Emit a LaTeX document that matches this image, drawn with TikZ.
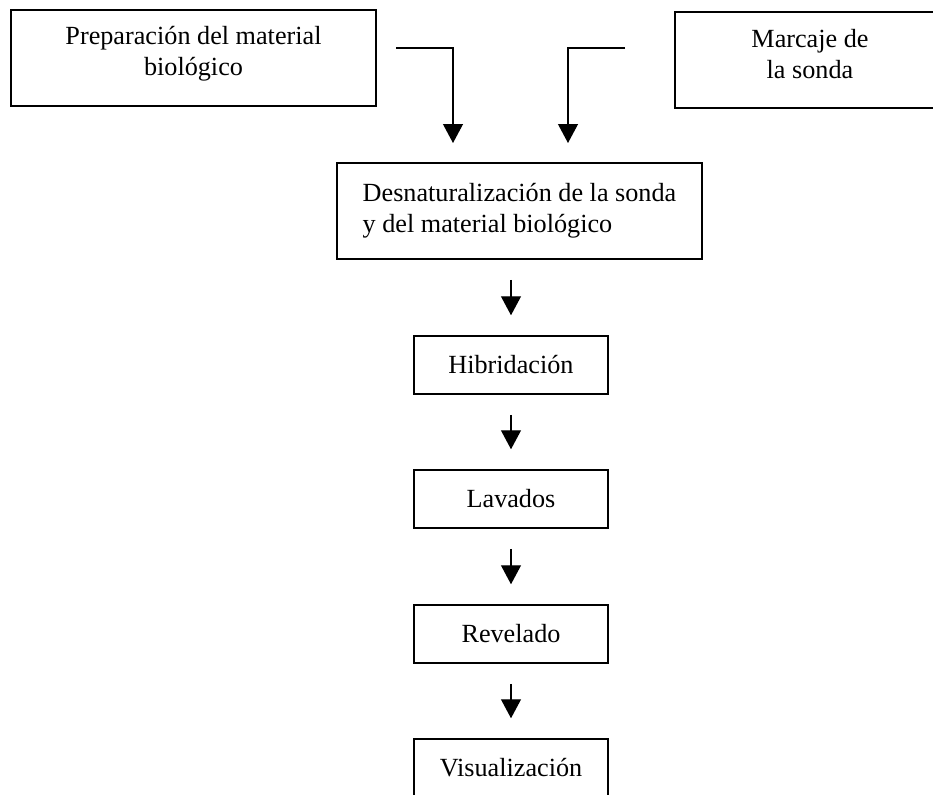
\documentclass[tikz,border=0pt]{standalone}
\usepackage{fontspec}
\setmainfont{Liberation Serif}
\usetikzlibrary{arrows.meta}
\begin{document}
\begin{tikzpicture}[x=.5pt,y=-.5pt,
  caja/.style={draw,line width=.75pt,inner sep=0pt,align=center,
    font=\fontsize{13.1pt}{15.5pt}\selectfont},
  paso/.style={caja,minimum width=97pt,minimum height=29pt},
  flecha/.style={line width=.6pt,-{Triangle[length=9.5pt,width=10pt]}}]
\useasboundingbox (0,0) rectangle (933,794);
% Draw the two starting boxes
\node[caja,minimum width=182.5pt,minimum height=48pt,text depth=7pt] (prep) at (193.5,58)
  {Preparación del material\\biológico};
\node[caja,minimum width=135pt,minimum height=48pt,text depth=6pt] (marcaje) at (810,60)
  {Marcaje de\\la sonda};
\node[caja,minimum width=182.5pt,minimum height=48pt,align=left] (desnat) at (519.5,211)
  {Desnaturalización de la sonda\\y del material biológico};
% Steps below
\node[paso] (hibrid) at (511,365) {Hibridación};
\node[paso] (lavados) at (511,499) {Lavados};
\node[paso] (revelado) at (511,634) {Revelado};
\node[paso] (visual) at (511,768) {Visualización};
% Elbow arrows into the denaturation box
\coordinate (prep-out) at (396,48);
\coordinate (prep-in) at (453,143);
\coordinate (marcaje-out) at (625,48);
\coordinate (marcaje-in) at (568,143);
\draw[flecha] (prep-out) -| (prep-in);
\draw[flecha] (marcaje-out) -| (marcaje-in);
% Straight arrows between steps
\draw[flecha] ([yshift=-10pt]desnat.south -| hibrid.north) -- ([yshift=10pt]hibrid.north);
\draw[flecha] ([yshift=-10pt]hibrid.south) -- ([yshift=10pt]lavados.north);
\draw[flecha] ([yshift=-10pt]lavados.south) -- ([yshift=10pt]revelado.north);
\draw[flecha] ([yshift=-10pt]revelado.south) -- ([yshift=10pt]visual.north);
\end{tikzpicture}
\end{document}
